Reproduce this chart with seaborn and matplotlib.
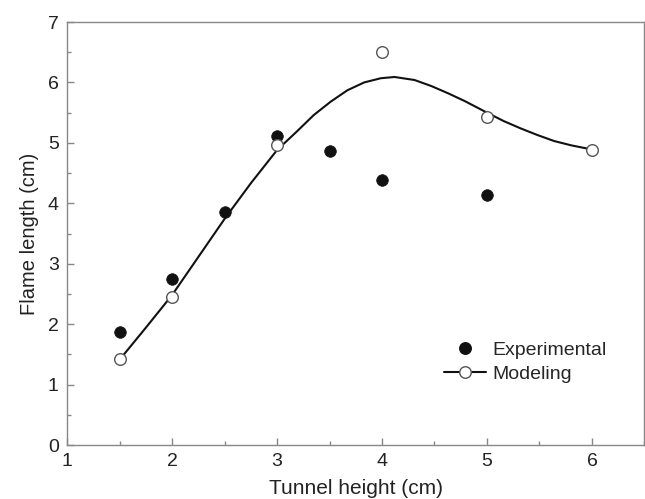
import matplotlib
matplotlib.use("Agg")
import matplotlib.pyplot as plt
from matplotlib.lines import Line2D
from matplotlib.ticker import MultipleLocator
import seaborn as sns
import pandas as pd

# Data
exp_x = [1.5, 2.0, 2.5, 3.0, 3.5, 4.0, 5.0]
exp_y = [1.87, 2.74, 3.86, 5.11, 4.86, 4.39, 4.14]

mod_x = [1.5, 2.0, 3.0, 4.0, 5.0, 6.0]
mod_y = [1.42, 2.45, 4.96, 6.50, 5.43, 4.89]

# Smooth modeling curve
curve_x = [1.5, 1.75, 2.0, 2.25, 2.5, 2.75, 3.0, 3.19, 3.35, 3.51, 3.67, 3.83,
           3.99, 4.12, 4.31, 4.47, 4.63, 4.79, 5.0, 5.16, 5.32, 5.48, 5.64,
           5.80, 6.0]
curve_y = [1.41, 1.94, 2.48, 3.11, 3.74, 4.33, 4.88, 5.19, 5.46, 5.68, 5.87, 6.00,
           6.07, 6.09, 6.04, 5.94, 5.82, 5.69, 5.50, 5.36, 5.24, 5.13, 5.03,
           4.96, 4.89]

sns.set_style("ticks")
plt.rcParams['font.family'] = ['Liberation Sans', 'DejaVu Sans']

fig = plt.figure(figsize=(6.45, 4.99), dpi=100)
ax = fig.add_axes([0.1039, 0.1082, 0.8953, 0.8477])

exp_df = pd.DataFrame({"x": exp_x, "y": exp_y})
mod_df = pd.DataFrame({"x": mod_x, "y": mod_y})
cur_df = pd.DataFrame({"x": curve_x, "y": curve_y})

sns.lineplot(data=cur_df, x="x", y="y", ax=ax, color="#111111", lw=1.5,
             sort=False, zorder=2)
sns.scatterplot(data=exp_df, x="x", y="y", ax=ax, color="#111111", s=70,
                marker="o", edgecolor="#111111", linewidth=0.5, zorder=3)
sns.scatterplot(data=mod_df, x="x", y="y", ax=ax, color="white", s=70,
                marker="o", edgecolor="#555555", linewidth=1.0, zorder=4)

ax.set_xlim(1, 6.5)
ax.set_ylim(0, 7)
ax.xaxis.set_major_locator(MultipleLocator(1))
ax.xaxis.set_minor_locator(MultipleLocator(0.5))
ax.yaxis.set_major_locator(MultipleLocator(1))
ax.yaxis.set_minor_locator(MultipleLocator(0.5))
ax.set_xticks([1, 2, 3, 4, 5, 6])
ax.set_xticklabels(["1", "2", "3", "4", "5", "6"])

ax.tick_params(which="major", direction="in", length=5, width=1,
               color="#888888", labelsize=14, labelcolor="#222222", pad=6)
ax.tick_params(which="minor", direction="in", length=3, width=1,
               color="#888888")
for sp in ax.spines.values():
    sp.set_visible(True)
    sp.set_color("#888888")
    sp.set_linewidth(1.0)

ax.set_xlabel("Tunnel height (cm)", fontsize=15, color="#222222", labelpad=6)
ax.set_ylabel("Flame length (cm)", fontsize=14.5, color="#222222", labelpad=6)

handles = [
    Line2D([], [], ls="none", marker="o", markersize=8.3, color="#111111"),
    Line2D([], [], ls="-", color="#111111", lw=1.5, marker="o", markersize=8.3,
           markerfacecolor="white", markeredgecolor="#555555"),
]
ax.legend(handles, ["Experimental", "Modeling"], loc="center left",
          bbox_to_anchor=(0.622, 0.196), frameon=False, fontsize=14,
          handlelength=2.2, handletextpad=0.3, labelspacing=0.3)

fig.savefig("out.png", dpi=100)
